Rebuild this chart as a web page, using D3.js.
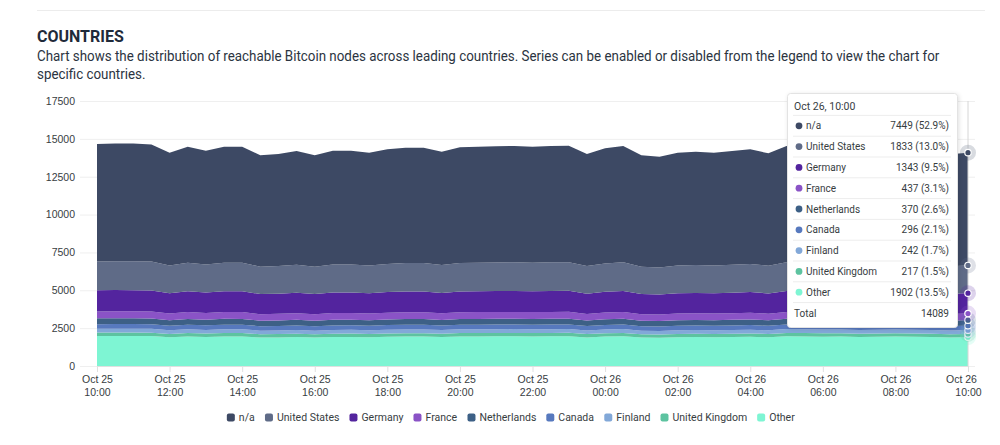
<!DOCTYPE html>
<html lang="en">
<head>
<meta charset="UTF-8">
<title>Countries</title>
<style>
body { margin: 0; background: #fff; overflow: hidden; }
svg { display: block; font-family: Roboto, "Noto Sans", sans-serif; }
.grid line { stroke: #efefef; }
.axis text { fill: #373d3f; font-size: 10.5px; }
.legend text { fill: #373d3f; font-size: 10.5px; }
.tip text { fill: #373d3f; font-size: 10px; }
</style>
</head>
<body>
<svg width="1000" height="445"></svg>
<script src="https://d3js.org/d3.v7.min.js"></script>
<script>
// half-hourly snapshots, Oct 25 10:00 -> Oct 26 10:00
const times = [
  "10-25 10:00","10-25 10:30","10-25 11:00","10-25 11:30","10-25 12:00","10-25 12:30","10-25 13:00","10-25 13:30",
  "10-25 14:00","10-25 14:30","10-25 15:00","10-25 15:30","10-25 16:00","10-25 16:30","10-25 17:00","10-25 17:30",
  "10-25 18:00","10-25 18:30","10-25 19:00","10-25 19:30","10-25 20:00","10-25 20:30","10-25 21:00","10-25 21:30",
  "10-25 22:00","10-25 22:30","10-25 23:00","10-25 23:30","10-26 00:00","10-26 00:30","10-26 01:00","10-26 01:30",
  "10-26 02:00","10-26 02:30","10-26 03:00","10-26 03:30","10-26 04:00","10-26 04:30","10-26 05:00","10-26 05:30",
  "10-26 06:00","10-26 06:30","10-26 07:00","10-26 07:30","10-26 08:00","10-26 08:30","10-26 09:00","10-26 09:30",
  "10-26 10:00"
];

const countries = ["n/a", "United States", "Germany", "France", "Netherlands", "Canada", "Finland", "United Kingdom", "Other"];
const colors = ["#3d4964", "#5f6b87", "#53249e", "#8a53c6", "#3d6086", "#5779be", "#82a8d8", "#5dc3a0", "#7ef5d3"];

const na = [7752,7768,7767,7736,7447,7656,7519,7655,7657,7357,7402,7508,7358,7519,7516,7446,7566,7625,7624,7481,
  7635,7655,7672,7683,7658,7683,7694,7403,7601,7683,7357,7307,7448,7482,7445,7509,7566,7426,7683,7656,
  7588,7624,7497,7561,7603,7534,7481,7391,7449];
const us = [1907,1911,1913,1903,1832,1883,1850,1884,1882,1810,1821,1847,1809,1849,1851,1832,1861,1876,1875,1841,
  1878,1884,1887,1890,1883,1889,1893,1822,1870,1890,1810,1798,1832,1840,1833,1847,1861,1827,1890,1884,
  1867,1876,1844,1860,1870,1854,1841,1818,1833];
const germany = [1397,1400,1398,1394,1342,1380,1355,1379,1381,1326,1334,1353,1327,1356,1354,1342,1363,1374,1375,1348,
  1376,1380,1382,1384,1379,1385,1386,1333,1370,1384,1326,1317,1343,1349,1342,1353,1363,1338,1384,1380,
  1367,1374,1351,1363,1370,1358,1348,1332,1343];
const france = [454,455,456,454,437,449,441,448,449,431,434,440,432,441,440,437,444,447,447,439,
  448,449,450,450,449,451,451,434,446,450,431,428,436,438,437,440,444,435,450,449,
  445,447,440,443,446,442,439,433,437];
const netherlands = [385,386,387,384,370,380,374,381,380,366,368,373,365,373,375,370,376,379,380,372,
  379,381,381,382,380,382,382,368,378,382,366,363,370,372,371,373,376,369,382,380,
  377,379,373,376,378,375,372,367,370];
const canada = [308,308,309,307,296,304,299,304,305,292,294,298,292,299,298,296,301,303,303,297,
  303,304,305,305,304,305,306,294,302,305,292,290,296,297,296,298,301,295,305,304,
  301,303,298,300,302,299,297,294,296];
const finland = [252,253,252,252,242,249,245,249,248,240,241,244,239,245,245,243,246,248,248,244,
  248,249,250,250,249,250,250,241,247,250,240,238,242,244,242,244,246,242,250,249,
  247,248,244,246,247,245,244,241,242];
const uk = [226,226,227,225,217,223,219,223,223,215,216,219,215,219,220,217,221,222,222,218,
  223,223,224,224,223,224,224,216,222,224,215,213,217,218,217,219,221,217,224,223,
  221,222,219,221,222,220,218,216,217];
const other = [1979,1983,1981,1975,1901,1955,1920,1956,1954,1879,1890,1917,1878,1919,1921,1902,1932,1947,1946,1910,
  1949,1955,1959,1962,1955,1961,1964,1889,1941,1962,1879,1866,1901,1910,1902,1917,1932,1896,1962,1955,
  1937,1947,1914,1930,1941,1924,1910,1887,1902];

const yTicks = [0, 2500, 5000, 7500, 10000, 12500, 15000, 17500];

const series = [na, us, germany, france, netherlands, canada, finland, uk, other];
const parse = d3.timeParse("%m-%d %H:%M");
const dates = times.map(t => { const d = parse(t); d.setFullYear(2024); return d; });

const rows = dates.map((d, i) => {
    const r = { date: d };
    countries.forEach((c, k) => r[c] = series[k][i]);
    return r;
});

const svg = d3.select("svg");

// header
svg.append("line")
    .attr("x1", 37).attr("x2", 985).attr("y1", 10.5).attr("y2", 10.5)
    .attr("stroke", "#ececec");

svg.append("text")
    .attr("x", 37).attr("y", 42)
    .attr("fill", "#1f2a3a")
    .style("font-size", "16px").style("font-weight", 700)
    .text("COUNTRIES");

const desc = [
    "Chart shows the distribution of reachable Bitcoin nodes across leading countries. Series can be enabled or disabled from the legend to view the chart for",
    "specific countries."
];
// the original face is narrower than Roboto, so squeeze the block horizontally
const descG = svg.append("g");
const descText = descG.selectAll("text")
    .data(desc)
    .enter().append("text")
    .attr("x", 0)
    .attr("y", (d, i) => 61 + i * 18)
    .attr("fill", "#2b3441")
    .style("font-size", "14.5px")
    .text(d => d);
const k = 903 / descText.nodes()[0].getComputedTextLength();
descG.attr("transform", `translate(37,0) scale(${k},1)`);

// scales
const x = d3.scaleTime().domain(d3.extent(dates)).range([97, 968]);
const y = d3.scaleLinear().domain([0, 17500]).range([366, 101]);

// grid
svg.append("g").attr("class", "grid")
    .selectAll("line")
    .data(yTicks)
    .enter().append("line")
    .attr("x1", 80).attr("x2", 975)
    .attr("y1", d => y(d) + 0.5).attr("y2", d => y(d) + 0.5);

// stacked areas, "Other" at the bottom
const keys = countries.slice().reverse();
const stack = d3.stack().keys(keys)(rows);

const area = d3.area()
    .x(d => x(d.data.date))
    .y0(d => y(d[0]))
    .y1(d => y(d[1]));

svg.append("g")
    .selectAll("path")
    .data(stack)
    .enter().append("path")
    .attr("fill", d => colors[countries.indexOf(d.key)])
    .attr("d", area);

// y axis
const yAxis = svg.append("g").attr("class", "axis")
    .attr("transform", "translate(80,0)")
    .call(d3.axisLeft(y).tickValues(yTicks).tickSize(0).tickPadding(5).tickFormat(d3.format("d")));
yAxis.select(".domain").remove();

// x axis
const fmtDay = d3.timeFormat("%b %d");
const fmtHour = d3.timeFormat("%H:%M");
const xTicks = x.ticks(d3.timeHour.every(2));
const xAxis = svg.append("g").attr("class", "axis")
    .attr("transform", "translate(0,366)")
    .call(d3.axisBottom(x).tickValues(xTicks).tickSize(6).tickFormat(""));
xAxis.select(".domain").attr("stroke", "#e0e0e0");
xAxis.selectAll(".tick line").attr("stroke", "#e0e0e0");
xAxis.selectAll(".tick text").each(function(d, i) {
    const t = d3.select(this).attr("y", 0).attr("dy", null)
        .attr("dx", i === xTicks.length - 1 ? -7 : 0);
    t.append("tspan").attr("x", 0).attr("y", 17).text(fmtDay(d));
    t.append("tspan").attr("x", 0).attr("y", 29.5).text(fmtHour(d));
});

// legend
const legend = svg.append("g").attr("class", "legend");
const items = legend.selectAll("g")
    .data(countries)
    .enter().append("g");
items.append("rect")
    .attr("width", 8).attr("height", 8).attr("rx", 2)
    .attr("y", -4)
    .attr("fill", (d, i) => colors[i]);
items.append("text")
    .attr("x", 12).attr("dy", "0.35em")
    .text(d => d);
let lx = 0;
const pos = [];
items.each(function() {
    pos.push(lx);
    lx += this.getBBox().width + 10;
});
const lstart = 511 - (lx - 10) / 2;
items.attr("transform", (d, i) => `translate(${lstart + pos[i]},417.5)`);

// hover state at the last snapshot
const last = rows.length - 1;
const hx = x(dates[last]);
svg.append("line")
    .attr("x1", hx).attr("x2", hx).attr("y1", 101).attr("y2", 366)
    .attr("stroke", "#d6d6d6");

const marks = svg.append("g");
stack.forEach(s => {
    const c = colors[countries.indexOf(s.key)];
    const cy = y(s[last][1]);
    marks.append("circle").attr("cx", hx).attr("cy", cy).attr("r", 8)
        .attr("fill", c).attr("fill-opacity", 0.2);
    marks.append("circle").attr("cx", hx).attr("cy", cy).attr("r", 3.2)
        .attr("fill", c).attr("stroke", "#fff").attr("stroke-width", 1.2);
});

// tooltip
const defs = svg.append("defs");
const f = defs.append("filter").attr("id", "shadow").attr("x", "-10%").attr("y", "-10%").attr("width", "130%").attr("height", "130%");
f.append("feDropShadow").attr("dx", 1).attr("dy", 1).attr("stdDeviation", 2).attr("flood-color", "#000").attr("flood-opacity", 0.12);

const tip = svg.append("g").attr("class", "tip");
tip.append("rect")
    .attr("x", 787.5).attr("y", 93.5).attr("width", 170).attr("height", 234).attr("rx", 3)
    .attr("fill", "#fff").attr("stroke", "#e3e3e3").attr("filter", "url(#shadow)");
tip.append("text")
    .attr("x", 794).attr("y", 106).attr("dy", "0.35em")
    .style("font-size", "10.5px")
    .text(d3.timeFormat("%b %d, %H:%M")(dates[last]));

const total = d3.sum(series, s => s[last]);
const rowY = i => 125.8 + i * 20.8;
for (let i = 0; i <= countries.length; i++) {
    tip.append("line")
        .attr("x1", 793).attr("x2", 951)
        .attr("y1", rowY(i) - 10.4).attr("y2", rowY(i) - 10.4)
        .attr("stroke", "#ededed");
}
countries.forEach((c, i) => {
    const v = series[i][last];
    tip.append("circle").attr("cx", 799).attr("cy", rowY(i)).attr("r", 3.4).attr("fill", colors[i]);
    tip.append("text").attr("x", 806).attr("y", rowY(i)).attr("dy", "0.35em").text(c);
    tip.append("text").attr("x", 949).attr("y", rowY(i)).attr("dy", "0.35em")
        .attr("text-anchor", "end")
        .text(`${v} (${(v / total * 100).toFixed(1)}%)`);
});
tip.append("text").attr("x", 794).attr("y", rowY(9)).attr("dy", "0.35em").text("Total");
tip.append("text").attr("x", 949).attr("y", rowY(9)).attr("dy", "0.35em")
    .attr("text-anchor", "end").text(total);
</script>
</body>
</html>
